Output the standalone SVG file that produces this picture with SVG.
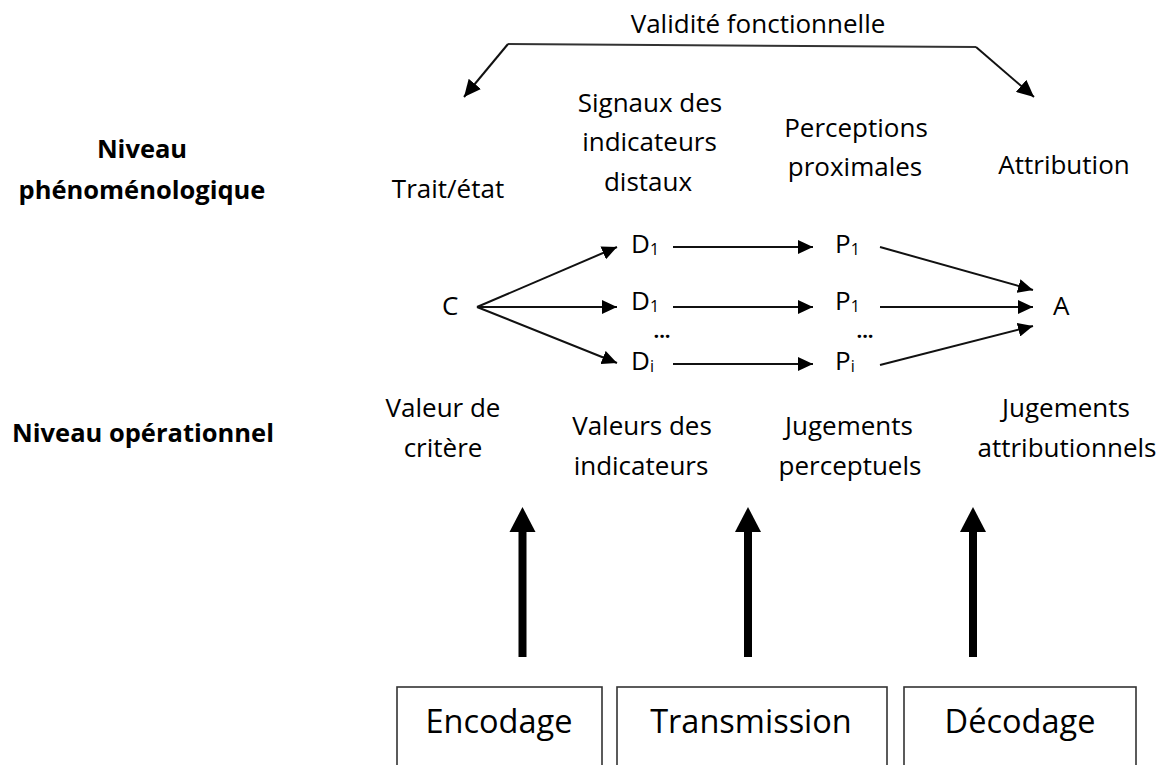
<svg xmlns="http://www.w3.org/2000/svg" width="1162" height="765" viewBox="0 0 1162 765">
  <style>
    text { font-family: "Open Sans", "Noto Sans", "Liberation Sans", sans-serif; fill: #000; }
    .lbl { font-size: 26px; text-anchor: middle; }
    .bold { font-size: 25.5px; font-weight: bold; text-anchor: middle; }
    .var { font-size: 26px; }
    .sub { font-size: 16px; }
    .dots { font-size: 20px; font-weight: bold; text-anchor: middle; }
    .box { fill: #fff; stroke: #333; stroke-width: 1.6; }
    .boxtxt { font-size: 32.5px; font-weight: 500; text-anchor: middle; }
    .thin { fill: none; stroke: #111; stroke-width: 2; marker-end: url(#ah); }
    .thick { fill: none; stroke: #000; stroke-width: 8; }
  </style>
  <defs>
    <marker id="ah" viewBox="0 0 15 14" refX="15" refY="7" markerWidth="15" markerHeight="14" markerUnits="userSpaceOnUse" orient="auto">
      <path d="M0,0 L15,7 L0,14 Z" fill="#000"/>
    </marker>
    <marker id="ahb" viewBox="0 0 17 16" refX="17" refY="8" markerWidth="17" markerHeight="16" markerUnits="userSpaceOnUse" orient="auto">
      <path d="M0,0 L17,8 L0,16 Z" fill="#000"/>
    </marker>
  </defs>
  <rect width="1162" height="765" fill="#fff"/>

  <g id="connectors">
    <path d="M508,44 L976,47" fill="none" stroke="#333" stroke-width="2"/>
    <path d="M508,44 L464,97" fill="none" stroke="#111" stroke-width="2" marker-end="url(#ahb)"/>
    <path d="M976,47 L1034,97" fill="none" stroke="#111" stroke-width="2" marker-end="url(#ahb)"/>
    <path class="thin" d="M477,307 L617,247"/>
    <path class="thin" d="M477,307 L617,307"/>
    <path class="thin" d="M477,307 L617,363"/>
    <path class="thin" d="M673,247 L813,247"/>
    <path class="thin" d="M673,307 L813,307"/>
    <path class="thin" d="M673,364 L813,364"/>
    <path class="thin" d="M880,247 L1033,290"/>
    <path class="thin" d="M880,307 L1033,307"/>
    <path class="thin" d="M880,365 L1033,326"/>
    <g id="thick-arrows">
      <path class="thick" d="M522.5,657 L522.5,530"/>
      <path d="M522.5,507 L535.5,532 L509.5,532 Z" fill="#000"/>
      <path class="thick" d="M748,657 L748,530"/>
      <path d="M748,507 L761,532 L735,532 Z" fill="#000"/>
      <path class="thick" d="M973,657 L973,530"/>
      <path d="M973,507 L986,532 L960,532 Z" fill="#000"/>
    </g>
  </g>

  <g id="title"><text class="lbl" x="758" y="33">Validité fonctionnelle</text></g>

  <g id="niveau-phenomeno">
    <text class="bold" x="142" y="158">Niveau</text>
    <text class="bold" x="142" y="199">phénoménologique</text>
  </g>
  <g id="niveau-operationnel"><text class="bold" x="143" y="442">Niveau opérationnel</text></g>

  <g id="trait-etat"><text class="lbl" x="448" y="198">Trait/état</text></g>
  <g id="signaux">
    <text class="lbl" x="650" y="112">Signaux des</text>
    <text class="lbl" x="649.5" y="151">indicateurs</text>
    <text class="lbl" x="648" y="191">distaux</text>
  </g>
  <g id="perceptions">
    <text class="lbl" x="856" y="137">Perceptions</text>
    <text class="lbl" x="855" y="176">proximales</text>
  </g>
  <g id="attribution"><text class="lbl" x="1064" y="174">Attribution</text></g>

  <g id="node-C"><text class="var" x="442" y="315">C</text></g>
  <g id="node-D1a"><text class="var" x="631" y="253">D<tspan class="sub" dy="2">1</tspan></text></g>
  <g id="node-D1b"><text class="var" x="631" y="310">D<tspan class="sub" dy="2">1</tspan></text></g>
  <g id="dots-D"><text class="dots" x="662" y="338">...</text></g>
  <g id="node-Di"><text class="var" x="631" y="370">D<tspan class="sub" dy="2">i</tspan></text></g>
  <g id="node-P1a"><text class="var" x="835" y="253">P<tspan class="sub" dy="2">1</tspan></text></g>
  <g id="node-P1b"><text class="var" x="835" y="310">P<tspan class="sub" dy="2">1</tspan></text></g>
  <g id="dots-P"><text class="dots" x="865" y="338">...</text></g>
  <g id="node-Pi"><text class="var" x="835" y="370">P<tspan class="sub" dy="2">i</tspan></text></g>
  <g id="node-A"><text class="var" x="1053" y="315">A</text></g>

  <g id="valeur-critere">
    <text class="lbl" x="443" y="417">Valeur de</text>
    <text class="lbl" x="443" y="457">critère</text>
  </g>
  <g id="valeurs-indicateurs">
    <text class="lbl" x="642" y="435">Valeurs des</text>
    <text class="lbl" x="641" y="475">indicateurs</text>
  </g>
  <g id="jugements-perceptuels">
    <text class="lbl" x="849" y="435">Jugements</text>
    <text class="lbl" x="850" y="475">perceptuels</text>
  </g>
  <g id="jugements-attributionnels">
    <text class="lbl" x="1066" y="417">Jugements</text>
    <text class="lbl" x="1067" y="457">attributionnels</text>
  </g>

  <g id="box-encodage">
    <rect class="box" x="397" y="687" width="205" height="90"/>
    <text class="boxtxt" x="499" y="733">Encodage</text>
  </g>
  <g id="box-transmission">
    <rect class="box" x="617" y="687" width="270" height="90"/>
    <text class="boxtxt" x="751" y="733">Transmission</text>
  </g>
  <g id="box-decodage">
    <rect class="box" x="904" y="687" width="232" height="90"/>
    <text class="boxtxt" x="1020" y="733">Décodage</text>
  </g>
</svg>
